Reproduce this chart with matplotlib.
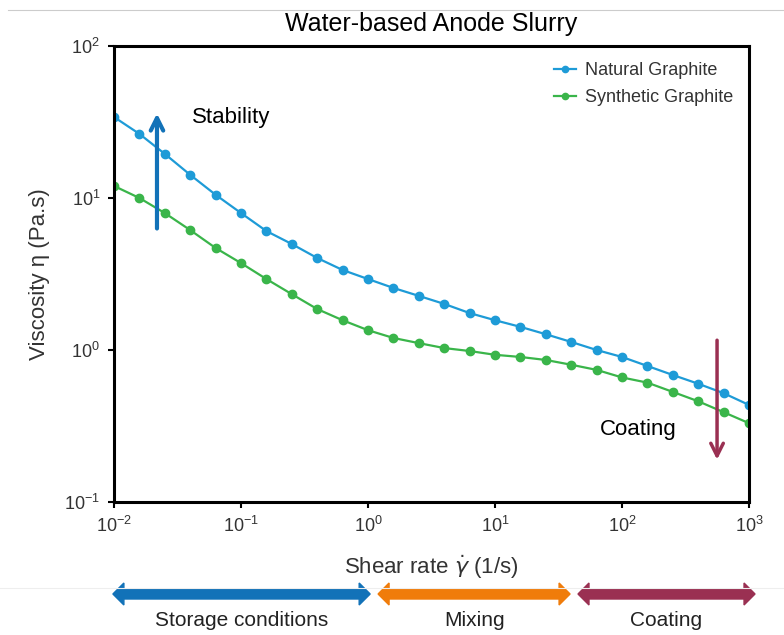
import numpy as np
import matplotlib.pyplot as plt
import matplotlib.patches as mpatches
from matplotlib.transforms import IdentityTransform
from matplotlib.lines import Line2D

# shear rate points, 5 per decade
shear_rate = 10 ** np.arange(-2, 3.01, 0.2)
natural = [34.1, 26.4, 19.5, 14.2, 10.5, 7.96, 6.06, 4.98, 4.03, 3.36, 2.93, 2.56, 2.27,
           2.01, 1.75, 1.57, 1.42, 1.27, 1.13, 1.0, 0.90, 0.785, 0.685, 0.60, 0.52, 0.435]
synthetic = [12.0, 10.0, 7.96, 6.15, 4.69, 3.73, 2.93, 2.33, 1.86, 1.57, 1.35, 1.20, 1.11,
             1.03, 0.985, 0.93, 0.90, 0.86, 0.80, 0.74, 0.66, 0.61, 0.53, 0.46, 0.39, 0.33]

# process windows (shear rate ranges)
regions = ["Storage conditions", "Mixing", "Coating"]
region_ranges = [(0.0098, 1.04), (1.2, 39), (45, 1115)]
region_colors = ["#1272b8", "#f07c0a", "#9a3052"]

blue = "#1e9bd7"
green = "#3ab54a"
text_gray = "#333333"

plt.rcParams["font.family"] = ["Liberation Sans", "DejaVu Sans"]

fig = plt.figure(figsize=(7.84, 6.35), dpi=100)
ax = fig.add_axes([0.1454, 0.2094, 0.81, 0.7182])

ax.plot(shear_rate, natural, "-o", color=blue, lw=1.6, ms=6, label="Natural Graphite")
ax.plot(shear_rate, synthetic, "-o", color=green, lw=1.6, ms=6, label="Synthetic Graphite")

ax.set_xscale("log")
ax.set_yscale("log")
ax.set_xlim(1e-2, 1e3)
ax.set_ylim(1e-1, 1e2)
ax.minorticks_off()
for s in ax.spines.values():
    s.set_linewidth(2.2)
ax.tick_params(direction="out", length=4, width=1.5, labelsize=13, labelcolor=text_gray, pad=6)

ax.set_title("Water-based Anode Slurry", fontsize=18, pad=11)
ax.set_xlabel(r"Shear rate $\dot{\gamma}$ (1/s)", fontsize=16, color=text_gray, labelpad=12)
ax.set_ylabel("Viscosity η (Pa.s)", fontsize=16, color=text_gray, labelpad=10)

leg = ax.legend(loc="upper right", frameon=False, fontsize=13, handlelength=1.2,
                markerscale=0.75, labelspacing=0.55, borderaxespad=0.5, handletextpad=0.5)
for t in leg.get_texts():
    t.set_color(text_gray)

# annotation arrows
ax.annotate("", xy=(0.0218, 36), xytext=(0.0218, 6.3),
            arrowprops=dict(arrowstyle="->,head_length=0.9,head_width=0.45", color="#1272b8",
                            lw=3, shrinkA=0, shrinkB=0))
ax.text(0.041, 34, "Stability", fontsize=16, va="center")
ax.annotate("", xy=(560, 0.19), xytext=(560, 1.16),
            arrowprops=dict(arrowstyle="->,head_length=0.9,head_width=0.45", color="#9a3052",
                            lw=2.5, shrinkA=0, shrinkB=0))
ax.text(67, 0.298, "Coating", fontsize=16, va="center")

# separator lines
fig.add_artist(Line2D([0.01, 1], [0.984, 0.984], color="#cccccc", lw=0.8))
fig.add_artist(Line2D([0, 1], [0.074, 0.074], color="#eeeeee", lw=0.8))

# bottom process arrows, drawn in pixel space from data x positions
y_mid = 635 - 594
body, head_w, head_l = 5, 11, 11
for name, (x0, x1), c in zip(regions, region_ranges, region_colors):
    p0 = ax.transData.transform((x0, 1))[0]
    p1 = ax.transData.transform((x1, 1))[0]
    verts = [(p0, y_mid), (p0 + head_l, y_mid + head_w), (p0 + head_l, y_mid + body),
             (p1 - head_l, y_mid + body), (p1 - head_l, y_mid + head_w), (p1, y_mid),
             (p1 - head_l, y_mid - head_w), (p1 - head_l, y_mid - body),
             (p0 + head_l, y_mid - body), (p0 + head_l, y_mid - head_w)]
    fig.add_artist(mpatches.Polygon(verts, closed=True, color=c, transform=IdentityTransform()))
    xm = (p0 + p1) / 2 / 784
    fig.text(xm, (635 - 620) / 635, name, ha="center", va="center", fontsize=15, color="#222222")

fig.savefig("out.png", dpi=100)
